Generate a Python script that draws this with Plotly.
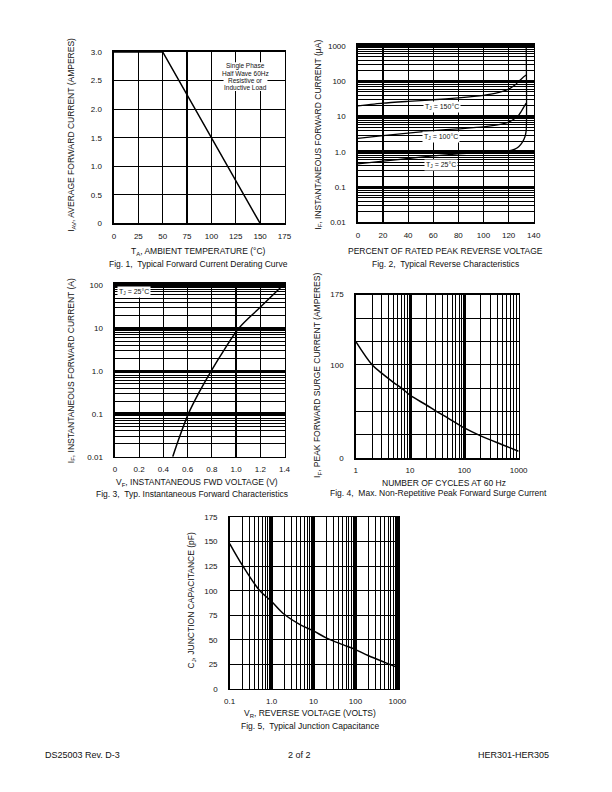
import plotly.graph_objects as go

W, H = 612, 792
FONT = "Liberation Sans, Arial, sans-serif"

# ---------------- data ----------------
# Fig. 1 derating curve
fig1_temp = [0, 50, 150]
fig1_current = [3.0, 3.0, 0.0]
fig1_xticks = [0, 25, 50, 75, 100, 125, 150, 175]
fig1_yticks = [0, 0.5, 1.0, 1.5, 2.0, 2.5, 3.0]
fig1_yticklabels = ["0", "0.5", "1.0", "1.5", "2.0", "2.5", "3.0"]

# Fig. 2 reverse characteristics (percent of rated PRV, uA)
fig2_pct_150 = [0, 20, 40, 60, 80, 100, 110, 120, 125, 128, 131, 134]
fig2_ir_150 = [20, 24, 27, 30, 34, 40, 46, 60, 78, 100, 125, 150]
fig2_pct_100 = [0, 20, 40, 60, 80, 100, 110, 120, 125, 128, 131, 134]
fig2_ir_100 = [2.4, 2.9, 3.4, 4.0, 4.5, 5.1, 5.7, 7.0, 8.8, 11, 16, 24]
fig2_pct_25 = [0, 20, 40, 60, 80, 100, 110, 120, 125, 128, 131, 133, 134, 134]
fig2_ir_25 = [0.46, 0.55, 0.65, 0.77, 0.88, 0.96, 1.0, 1.06, 1.2, 1.4, 1.9, 2.7, 4.0, 1000]
fig2_xticks = [0, 20, 40, 60, 80, 100, 120, 140]
fig2_yticks = [0.01, 0.1, 1, 10, 100, 1000]
fig2_yticklabels = ["0.01", "0.1", "1.0", "10", "100", "1000"]

# Fig. 3 forward characteristics
fig3_vf = [0.477, 0.535, 0.606, 0.69, 0.794, 0.898, 1.023, 1.195, 1.387]
fig3_if = [0.01, 0.03, 0.1, 0.3, 1.0, 3.0, 10, 30, 100]
fig3_xticks = [0, 0.2, 0.4, 0.6, 0.8, 1.0, 1.2, 1.4]
fig3_xticklabels = ["0", "0.2", "0.4", "0.6", "0.8", "1.0", "1.2", "1.4"]
fig3_yticks = [0.01, 0.1, 1, 10, 100]
fig3_yticklabels = ["0.01", "0.1", "1.0", "10", "100"]

# Fig. 4 surge current
fig4_cycles = [1, 2, 3, 5, 7, 10, 20, 30, 50, 100, 200, 500, 1000]
fig4_ifsm = [125, 100, 91, 81, 75, 67.5, 57, 50.5, 43, 32.5, 24, 14.5, 7.5]
fig4_xticks = [1, 10, 100, 1000]
fig4_xticklabels = ["1", "10", "100", "1000"]
fig4_yticks = [0, 100, 175]
fig4_yticklabels = ["0", "100", "175"]
fig4_ygrid = [25, 50, 75, 125, 150]

# Fig. 5 junction capacitance
fig5_vr = [0.1, 0.2, 0.5, 1.0, 2.0, 5.0, 10, 20, 50, 100, 200, 500, 1000]
fig5_cj = [148, 126, 101, 89, 76, 65, 59, 52, 45, 40, 34, 27, 22]
fig5_xticks = [0.1, 1, 10, 100, 1000]
fig5_xticklabels = ["0.1", "1.0", "10", "100", "1000"]
fig5_yticks = [0, 25, 50, 75, 100, 125, 150, 175]
fig5_yticklabels = ["0", "25", "50", "75", "100", "125", "150", "175"]

fig1_note_lines = ["Single Phase", "Half Wave 60Hz", "Resistive or", "Inductive Load"]


# ---------------- helpers ----------------
def dx(a, b):
    return [a / W, b / W]


def dy(top, bottom):
    return [1 - bottom / H, 1 - top / H]


def px(x, y):
    return x / W, 1 - y / H


def minor_log(d0, d1):
    return [m * 10 ** d for d in range(d0, d1) for m in range(2, 10)]


def axis(domain, anchor, is_y, **kw):
    a = dict(domain=domain, anchor=anchor, showline=True, mirror=True,
             linecolor="black", linewidth=1.5, showgrid=True,
             gridcolor="black", gridwidth=1.2, zeroline=False, ticks="",
             tickfont=dict(size=8, color="#111", family=FONT),
             fixedrange=True, tickmode="array",
             ticklabelstandoff=9 if is_y else 4)
    a.update(kw)
    return a


def log_minor(d0, d1):
    return dict(tickmode="array", tickvals=minor_log(d0, d1), showgrid=True,
                gridcolor="black", gridwidth=1.0, ticks="")


fig = go.Figure()
line = dict(color="black", width=1.5)

fig.add_trace(go.Scatter(x=fig1_temp, y=fig1_current, mode="lines", line=line,
                         xaxis="x", yaxis="y", showlegend=False))
for xs, ys in [(fig2_pct_150, fig2_ir_150), (fig2_pct_100, fig2_ir_100), (fig2_pct_25, fig2_ir_25)]:
    fig.add_trace(go.Scatter(x=xs, y=ys, mode="lines",
                             line=dict(color="black", width=1.3, shape="spline", smoothing=0.6),
                             xaxis="x2", yaxis="y2", showlegend=False))
fig.add_trace(go.Scatter(x=fig3_vf, y=fig3_if, mode="lines", line=dict(color="black", width=1.5, shape="spline"),
                         xaxis="x3", yaxis="y3", showlegend=False))
fig.add_trace(go.Scatter(x=fig4_cycles, y=fig4_ifsm, mode="lines", line=dict(color="black", width=1.5, shape="spline"),
                         xaxis="x4", yaxis="y4", showlegend=False))
fig.add_trace(go.Scatter(x=fig5_vr, y=fig5_cj, mode="lines", line=dict(color="black", width=1.5, shape="spline"),
                         xaxis="x5", yaxis="y5", showlegend=False))

layout = dict(
    width=W, height=H, margin=dict(l=0, r=0, t=0, b=0),
    paper_bgcolor="white", plot_bgcolor="white",
    font=dict(family=FONT, color="#111", size=8),
    showlegend=False,
    # Fig 1
    xaxis=axis(dx(110.7, 285.5), "y", False, range=[0, 175],
               tickvals=fig1_xticks, ticktext=[str(v) for v in fig1_xticks]),
    yaxis=axis(dy(48.5, 222), "x", True, range=[0, 3],
               tickvals=fig1_yticks, ticktext=fig1_yticklabels),
    # Fig 2 (range nudged a hair past 1000 so the thick decade line shows on the top edge)
    xaxis2=axis(dx(360.7, 541), "y2", False, range=[0, 140],
                tickvals=fig2_xticks, ticktext=[str(v) for v in fig2_xticks]),
    yaxis2=axis(dy(41.2, 221), "x2", True, type="log", range=[-2, 3.036],
                tickvals=fig2_yticks, ticktext=fig2_yticklabels, gridwidth=3,
                minor=log_minor(-2, 3)),
    # Fig 3
    xaxis3=axis(dx(111.7, 285.5), "y3", False, range=[0, 1.4],
                tickvals=fig3_xticks, ticktext=fig3_xticklabels),
    yaxis3=axis(dy(283.2, 458), "x3", True, type="log", range=[-2, 2.03],
                tickvals=fig3_yticks, ticktext=fig3_yticklabels, gridwidth=3,
                minor=log_minor(-2, 2)),
    # Fig 4
    xaxis4=axis(dx(358.5, 525.5), "y4", False, type="log", range=[0, 3],
                tickvals=fig4_xticks, ticktext=fig4_xticklabels, gridwidth=3,
                minor=log_minor(0, 3)),
    yaxis4=axis(dy(294, 459.5), "x4", True, range=[0, 175],
                tickvals=fig4_yticks, ticktext=fig4_yticklabels, gridwidth=1.0,
                minor=dict(tickmode="array", tickvals=fig4_ygrid, showgrid=True,
                           gridcolor="black", gridwidth=1.0, ticks="")),
    # Fig 5
    xaxis5=axis(dx(229.3, 402.5), "y5", False, type="log", range=[-1, 3.03],
                tickvals=fig5_xticks, ticktext=fig5_xticklabels, gridwidth=3,
                minor=log_minor(-1, 3)),
    yaxis5=axis(dy(519, 692.7), "x5", True, range=[0, 175],
                tickvals=fig5_yticks, ticktext=fig5_yticklabels),
)
fig.update_layout(**layout)

ann = []


def text(x, y, s, size=8.5, angle=0, xanchor="center", bg=None, pad=1):
    X, Y = px(x, y)
    d = dict(x=X, y=Y, xref="paper", yref="paper", text=s, showarrow=False,
             font=dict(size=size, family=FONT, color="#111"), textangle=angle,
             xanchor=xanchor, yanchor="middle")
    if bg:
        d.update(bgcolor=bg, borderpad=pad)
    ann.append(d)


# axis titles / captions
text(197, 250, "T<sub>A</sub>, AMBIENT TEMPERATURE (°C)")
text(197, 263, "Fig. 1,  Typical Forward Current Derating Curve")
text(67, 132, "I<sub>AV</sub>, AVERAGE FORWARD CURRENT (AMPERES)", angle=-90)

text(451, 250, "PERCENT OF RATED PEAK REVERSE VOLTAGE")
text(451, 263, "Fig. 2,  Typical Reverse Characteristics")
text(320, 132, "I<sub>F</sub>, INSTANTANEOUS FORWARD CURRENT (µA)", angle=-90)

text(196, 484.5, "V<sub>F</sub>, INSTANTANEOUS FWD VOLTAGE (V)")
text(191, 496, "Fig. 3,  Typ. Instantaneous Forward Characteristics")
text(67, 371, "I<sub>F</sub>, INSTANTANEOUS FORWARD CURRENT (A)", angle=-90)

text(449, 485, "NUMBER OF CYCLES AT 60 Hz")
text(443, 495, "Fig. 4,  Max. Non-Repetitive Peak Forward Surge Current")
text(320, 376, "I<sub>F</sub>, PEAK FORWARD SURGE CURRENT (AMPERES)", angle=-90)

text(312, 718, "V<sub>R</sub>, REVERSE VOLTAGE (VOLTS)")
text(312, 730, "Fig. 5,  Typical Junction Capacitance")
text(190, 603, "C<sub>J</sub>, JUNCTION CAPACITANCE (pF)", angle=-90)

# in-plot labels: white backing box for the Fig. 1 note, then its four lines
X0, Y0 = px(223, 59)
X1, Y1 = px(268, 88)
fig.add_shape(type="rect", xref="paper", yref="paper", x0=X0, y0=Y1, x1=X1, y1=Y0,
              fillcolor="white", line=dict(width=0), layer="above")
for i, s in enumerate(fig1_note_lines):
    text(245.5, 63 + 7.2 * i, s, size=6.5)

text(447, 104, "T<sub>J</sub> = 150°C", size=7, bg="white", pad=1)
text(446, 134.5, "T<sub>J</sub> = 100°C", size=7, bg="white", pad=1)
text(446, 162.5, "T<sub>J</sub> = 25°C", size=7, bg="white", pad=1)
text(131, 291.5, "T<sub>J</sub> = 25°C", size=7, bg="white", pad=1)

# footer
text(38, 760, "DS25003 Rev. D-3", size=9, xanchor="left")
text(301, 760, "2 of 2", size=9)
text(559, 760, "HER301-HER305", size=9, xanchor="right")

fig.update_layout(annotations=ann)
fig.write_html("out.html", config={"displayModeBar": False, "staticPlot": True},
               post_script="document.body.style.margin='0px';document.body.style.overflow='hidden';")
